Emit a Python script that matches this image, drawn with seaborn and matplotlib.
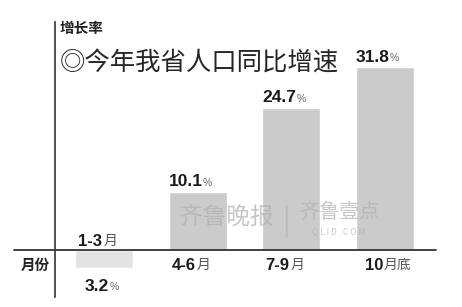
import matplotlib
matplotlib.use('Agg')
import matplotlib.pyplot as plt
import seaborn as sns
import pandas as pd

# ---- data ----
periods = ['1-3', '4-6', '7-9', '10']
period_suffix = ['月', '月', '月', '月底']
growth = [-3.2, 10.1, 24.7, 31.8]
title_text = '◎今年我省人口同比增速'
ylabel_text = '增长率'
xlabel_text = '月份'

sns.set_theme(style='white')
plt.rcParams['font.family'] = ['Noto Sans CJK SC', 'DejaVu Sans']

W, H = 462, 307
fig = plt.figure(figsize=(W / 100, H / 100), dpi=100)
fig.patch.set_facecolor('white')
ax = fig.add_axes([55 / W, 1 - 297 / H, (436 - 55) / W, (297 - 22) / H])

df = pd.DataFrame({'period': periods, 'growth': growth})
colors = ['#e3e3e3', '#cbcbcb', '#cbcbcb', '#cbcbcb']
sns.barplot(data=df, x='period', y='growth', hue='period', palette=colors,
            legend=False, width=0.62, saturation=1, ax=ax, zorder=1)

ax.set_xlim(-0.525, 3.546)
ax.set_ylim(-8.17, 39.65)
ax.set_xticks([])
ax.set_yticks([])
ax.set_xlabel('')
ax.set_ylabel('')
for s in ['top', 'right', 'bottom']:
    ax.spines[s].set_visible(False)
ax.spines['left'].set_color('#333333')
ax.spines['left'].set_linewidth(1.2)
ax.axhline(0, xmin=-(55 - 14) / 381, xmax=1, color='#333333', lw=1.3,
           clip_on=False, zorder=3)

px = 0.72  # points per pixel
num_font = ['Liberation Sans', 'DejaVu Sans']

for i, v in enumerate(growth):
    # value label
    if v >= 0:
        dy = 10 * px
    else:
        dy = -18 * px
    ax.annotate(f'{abs(v):.1f}', xy=(i, v), xytext=(5 * px, dy),
                textcoords='offset points', ha='right', va='center',
                fontsize=12.5, fontweight='bold', family=num_font,
                color='#1a1a1a')
    ax.annotate('%', xy=(i, v), xytext=(5 * px, dy - 1 * px),
                textcoords='offset points', ha='left', va='center',
                fontsize=7.5, family=num_font, color='#666666')
    # category label
    cy = 9 * px if v < 0 else -15 * px
    ax.annotate(periods[i], xy=(i, 0), xytext=(-2 * px, cy),
                textcoords='offset points', ha='right', va='center',
                fontsize=12, fontweight='bold', family=num_font,
                color='#1a1a1a')
    ax.annotate(period_suffix[i], xy=(i, 0), xytext=(-1 * px, cy),
                textcoords='offset points', ha='left', va='center',
                fontsize=10, color='#555555')

# axis titles & chart title
fig.text(60 / W, 1 - 28 / H, ylabel_text, ha='left', va='center',
         fontsize=10.5, color='#222222', fontweight='bold')
fig.text(35 / W, 1 - 265 / H, xlabel_text, ha='center', va='center',
         fontsize=10.5, color='#222222', fontweight='bold')
fig.text(60 / W, 1 - 64 / H, title_text, ha='left', va='center',
         fontsize=18.3, color='#262626', fontweight='medium')

# watermark
wm = '#b0b0b0'
fig.text(226 / W, 1 - 217 / H, '齐鲁晚报', ha='center', va='center',
         fontsize=17, color=wm, alpha=0.7, style='italic', zorder=5)
fig.text(286 / W, 1 - 221 / H, '|', ha='center', va='center',
         fontsize=20, color=wm, alpha=0.7, zorder=5)
fig.text(339 / W, 1 - 213 / H, '齐鲁壹点', ha='center', va='center',
         fontsize=14.5, color=wm, alpha=0.7, zorder=5)
fig.text(339 / W, 1 - 232 / H, 'Q L I D . C O M', ha='center', va='center',
         fontsize=6, color=wm, alpha=0.7, zorder=5)

fig.savefig('out.png', dpi=100, facecolor='white')
